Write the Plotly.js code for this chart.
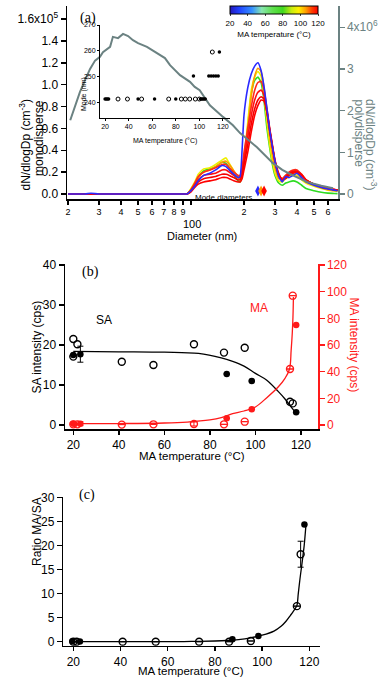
<!DOCTYPE html>
<html><head><meta charset="utf-8">
<script src="https://cdn.plot.ly/plotly-3.0.1.min.js"></script>
<style>html,body{margin:0;padding:0;background:#fff}#chart{width:392px;height:684px}</style>
</head><body><div id="chart"></div>
<script>
// ---------- Panel (a): monodisperse size distributions (units of 1e5 cm^-3) ----------
const diameter_nm = [20,25,27,30,50,90, 95,100,105,110,118,128,138,150,158,165, 175,185,190,195,200,210,220,230,240,250, 260,270,280,290,300,315,330,345,360,380, 400,425,450,500,550,600,650,680];
const curveTemps = [73, 88, 100, 110, 114, 117, 120, 20];
const mono_T73  = [0,0,0,0,0,0, 0.00,0.04,0.09,0.15,0.21,0.23,0.25,0.29,0.28,0.24, 0.18,0.12,0.11,0.16,0.30,0.62,0.92,1.04,1.07,1.02, 0.85,0.60,0.42,0.27,0.17,0.10,0.08,0.10,0.11,0.12, 0.11,0.08,0.05,0.03,0.015,0.008,0.005,0.003];
const mono_T88  = [0,0,0,0,0,0, 0.00,0.05,0.11,0.18,0.23,0.24,0.27,0.31,0.33,0.28, 0.21,0.15,0.13,0.18,0.32,0.65,0.95,1.07,1.12,1.08, 0.90,0.66,0.45,0.30,0.19,0.12,0.11,0.14,0.16,0.18, 0.17,0.13,0.10,0.07,0.05,0.035,0.03,0.025];
const mono_T100 = [0,0,0,0,0,0, 0.00,0.04,0.09,0.15,0.20,0.22,0.25,0.29,0.30,0.27, 0.21,0.16,0.14,0.17,0.28,0.58,0.90,1.08,1.15,1.12, 0.97,0.74,0.52,0.36,0.24,0.14,0.14,0.17,0.19,0.20, 0.19,0.15,0.11,0.08,0.055,0.04,0.03,0.028];
const mono_T110 = [0,0,0,0,0,0, 0.00,0.04,0.10,0.16,0.20,0.22,0.24,0.27,0.27,0.24, 0.20,0.17,0.17,0.24,0.38,0.60,0.80,0.95,1.02,1.03, 0.95,0.78,0.60,0.45,0.30,0.17,0.14,0.17,0.20,0.22, 0.22,0.18,0.13,0.09,0.065,0.05,0.04,0.035];
const mono_T114 = [0,0,0,0,0,0, 0.00,0.03,0.08,0.13,0.17,0.18,0.19,0.22,0.22,0.20, 0.17,0.15,0.15,0.20,0.32,0.52,0.72,0.86,0.93,0.95, 0.90,0.76,0.58,0.43,0.29,0.17,0.13,0.16,0.19,0.21, 0.21,0.18,0.13,0.09,0.065,0.05,0.04,0.035];
const mono_T117 = [0,0,0,0,0,0, 0.00,0.03,0.07,0.11,0.14,0.15,0.16,0.18,0.18,0.17, 0.15,0.13,0.13,0.17,0.27,0.45,0.64,0.78,0.86,0.89, 0.87,0.75,0.58,0.43,0.30,0.18,0.13,0.15,0.18,0.20, 0.20,0.17,0.13,0.09,0.065,0.05,0.04,0.035];
const mono_T120 = [0,0,0,0,0,0, 0.00,0.02,0.06,0.09,0.11,0.12,0.13,0.15,0.15,0.14, 0.12,0.11,0.11,0.14,0.22,0.38,0.57,0.72,0.81,0.86, 0.85,0.75,0.59,0.44,0.31,0.19,0.13,0.14,0.17,0.19, 0.20,0.17,0.13,0.09,0.065,0.05,0.04,0.035];
const mono_T20  = [0,0,0.006,0,0,0, 0.00,0.03,0.07,0.12,0.17,0.19,0.22,0.26,0.25,0.22, 0.18,0.15,0.16,0.40,0.72,0.97,1.10,1.17,1.20,1.13, 0.98,0.78,0.58,0.43,0.30,0.16,0.11,0.16,0.15,0.17, 0.19,0.15,0.11,0.08,0.06,0.045,0.035,0.03];
const monoSeries = [mono_T73, mono_T88, mono_T100, mono_T110, mono_T114, mono_T117, mono_T120, mono_T20];
const curveColors = ['#2edc22','#eeee00','#ff9a00','#ff2a1a','#ff1010','#f50000','#ff0000','#2a2aff'];

// polydisperse distribution (units of 1e6 cm^-3)
const poly_D = [20.6,21.9,23.4,25,26.7,28.5,30.4,31.6,34.7,36,38.5,41.1,43.9,46.8,50,56.2,60.1,66.7,71.1,76,86.6,98.7,105,112,125,128,152,173,190,237,292,330,365,456,550,641];
const poly_dNdlogDp = [1.77,2.09,2.45,2.73,3.0,3.2,3.29,3.4,3.53,3.77,3.74,3.84,3.79,3.69,3.62,3.53,3.45,3.33,3.26,3.09,2.85,2.69,2.57,2.49,2.21,2.13,1.85,1.65,1.46,1.12,0.74,0.58,0.48,0.29,0.2,0.14];

// mode diameter markers
const modeMarkD = [240, 250, 260];
const modeMarkY = [0.027, 0.027, 0.027];
const modeMarkColors = ['#2a2aff','#ff9a00','#ff0000'];

// inset: mode vs MA temperature
const inset_open_T = [31, 39, 51, 74, 84.7, 88.1, 91.8, 96.6, 100, 111];
const inset_open_mode = [241.5,241.5,241.5,241.5,241.5,241.5,241.5,241.5,241.5,259.6];
const inset_filled_T = [20, 21, 22, 23, 48, 62, 80, 101, 102, 103, 104, 105, 95, 108, 110, 112, 114, 116, 117];
const inset_filled_mode = [241.5,241.5,241.5,241.5,241.5,241.5,241.5,241.5,241.5,241.5,241.5,241.5,250.4,250.4,250.4,250.4,250.4,250.4,259.6];

// colorbar
const cbTicks = [20, 40, 60, 80, 100, 120];

// ---------- Panel (b) ----------
const SA_open_T = [20, 20, 21.8, 41.3, 55.2, 73, 86.2, 95.3, 115.2, 116.4];
const SA_open = [21.5, 17.1, 20.2, 15.8, 15.0, 20.2, 18.1, 19.3, 5.8, 5.4];
const SA_filled_T = [20, 23.1, 87.4, 98.4, 117.9];
const SA_filled = [17.5, 17.7, 12.75, 11.0, 3.2];
const SA_filled_err = [0, 2.0, 0, 0, 0];
const SA_fit_T = [20, 40, 60, 75, 85, 90, 95, 100, 105, 110, 113, 116, 118];
const SA_fit = [18.4, 18.3, 18.2, 17.9, 16.8, 15.9, 14.7, 12.9, 11.2, 8.4, 6.5, 4.3, 2.9];

const MA_open_T = [20, 21.8, 41.3, 55.2, 73, 86.2, 95.3, 115.2, 116.4];
const MA_open = [0.5, 0.5, 0.3, 0.5, 0.8, 0.5, 2.5, 42, 97];
const MA_open_err = [0, 0, 0, 0, 1.5, 0, 0, 0, 0];
const MA_filled_T = [20, 23.1, 87.4, 98.4, 117.9];
const MA_filled = [1.0, 1.0, 5.0, 11.8, 75];
const MA_filled_err = [0, 1.5, 0, 0, 0];
const MA_fit_T = [20, 40, 60, 70, 80, 85, 90, 95, 100, 105, 110, 113, 115, 115.7, 116.2, 116.5, 116.7];
const MA_fit = [1.0, 1.1, 1.5, 2.2, 3.8, 5.5, 8.5, 10.5, 13.5, 20.5, 28.5, 35, 42, 56, 69, 81, 96];

// ---------- Panel (c) ----------
const R_open_T = [20, 21.4, 40.9, 54.9, 73.3, 86, 95.2, 114.7, 116.3];
const R_open = [0, 0, 0, 0, 0, 0, 0.15, 7.4, 18.2];
const R_open_err = [0, 0, 0, 0, 0, 0, 0, 0, 2.7];
const R_filled_T = [19.6, 22.8, 87.4, 98.4, 117.9];
const R_filled = [0.1, 0.05, 0.5, 1.2, 24.4];
const R_fit_T = [20, 40, 60, 70, 80, 85, 90, 95, 100, 105, 108, 110, 112, 114, 114.7, 115.3, 116, 116.8, 117.3, 117.8, 118.5];
const R_fit = [0.0, 0.0, 0.02, 0.05, 0.15, 0.25, 0.45, 0.8, 1.35, 2.2, 3.2, 4.2, 5.5, 6.9, 7.5, 10, 13, 16, 18, 20, 24];

// ---------- build ----------
const FONT = 'Liberation Sans, Arial, sans-serif';
const SERIF = 'Liberation Serif, Times New Roman, serif';
const GRAY = '#6b8282';
const RED = '#ff1a1a';
const W = 392, H = 684;
const px = v => v / W;
const py = v => 1 - v / H;

const traces = [];
monoSeries.forEach((s, i) => {
  traces.push({type:'scatter', mode:'lines', x:diameter_nm, y:s, xaxis:'x', yaxis:'y',
    line:{color:curveColors[i], width:1.6, shape:'spline', smoothing:0.5}, hoverinfo:'skip'});
});
traces.push({type:'scatter', mode:'lines', x:poly_D, y:poly_dNdlogDp, xaxis:'x', yaxis:'y2',
  line:{color:GRAY, width:2}, hoverinfo:'skip'});
traces.push({type:'scatter', mode:'markers', x:modeMarkD, y:modeMarkY, xaxis:'x', yaxis:'y',
  marker:{symbol:'diamond-tall', size:8, color:modeMarkColors}, hoverinfo:'skip'});
// colorbar carrier
traces.push({type:'scatter', mode:'markers', x:[30,40], y:[-5,-5], xaxis:'x', yaxis:'y',
  marker:{size:1, color:[cbTicks[0], cbTicks[cbTicks.length-1]], cmin:20, cmax:120,
    colorscale:[[0,'#2418b8'],[0.1,'#2040ff'],[0.25,'#3590ff'],[0.36,'#88e6b0'],[0.48,'#60e050'],[0.6,'#40d820'],[0.7,'#c8ec10'],[0.78,'#fff000'],[0.86,'#ffa000'],[0.93,'#ff4000'],[1,'#ff0000']],
    showscale:true,
    colorbar:{orientation:'h', x:px(274), xanchor:'center', y:py(6), yanchor:'top', len:88, lenmode:'pixels',
      thickness:8, thicknessmode:'pixels', outlinewidth:1, outlinecolor:'#000', xpad:0, ypad:0,
      tickvals:cbTicks, ticks:'outside', ticklen:2, tickfont:{size:8, family:FONT, color:'#000'},
      title:{text:'MA temperature (°C)', side:'bottom', font:{size:8, family:FONT, color:'#000'}}}},
  hoverinfo:'skip'});
// inset
traces.push({type:'scatter', mode:'markers', x:inset_open_T, y:inset_open_mode, xaxis:'x2', yaxis:'y3',
  marker:{symbol:'circle-open', size:4, color:'#000', line:{width:1, color:'#000'}}, hoverinfo:'skip'});
traces.push({type:'scatter', mode:'markers', x:inset_filled_T, y:inset_filled_mode, xaxis:'x2', yaxis:'y3',
  marker:{symbol:'circle', size:3.5, color:'#000'}, hoverinfo:'skip'});

// panel b
traces.push({type:'scatter', mode:'lines', x:SA_fit_T, y:SA_fit, xaxis:'x3', yaxis:'y4',
  line:{color:'#000', width:1.3, shape:'spline'}, hoverinfo:'skip'});
traces.push({type:'scatter', mode:'lines', x:MA_fit_T, y:MA_fit, xaxis:'x3', yaxis:'y5',
  line:{color:RED, width:1.3, shape:'spline'}, hoverinfo:'skip'});
traces.push({type:'scatter', mode:'markers', x:SA_open_T, y:SA_open, xaxis:'x3', yaxis:'y4',
  marker:{symbol:'circle-open', size:7, color:'#000', line:{width:1.4, color:'#000'}}, hoverinfo:'skip'});
traces.push({type:'scatter', mode:'markers', x:SA_filled_T, y:SA_filled, xaxis:'x3', yaxis:'y4',
  error_y:{type:'data', array:SA_filled_err, visible:true, color:'#000', thickness:1, width:3},
  marker:{symbol:'circle', size:6.5, color:'#000'}, hoverinfo:'skip'});
traces.push({type:'scatter', mode:'markers', x:MA_open_T, y:MA_open, xaxis:'x3', yaxis:'y5',
  error_y:{type:'data', array:MA_open_err, visible:true, color:RED, thickness:1, width:3},
  marker:{symbol:'circle-open', size:7, color:RED, line:{width:1.4, color:RED}}, hoverinfo:'skip'});
traces.push({type:'scatter', mode:'markers', x:MA_filled_T, y:MA_filled, xaxis:'x3', yaxis:'y5',
  error_y:{type:'data', array:MA_filled_err, visible:true, color:RED, thickness:1, width:3},
  marker:{symbol:'circle', size:6.5, color:RED}, hoverinfo:'skip'});

// panel c
traces.push({type:'scatter', mode:'lines', x:R_fit_T, y:R_fit, xaxis:'x4', yaxis:'y6',
  line:{color:'#000', width:1.3, shape:'spline'}, hoverinfo:'skip'});
traces.push({type:'scatter', mode:'markers', x:R_open_T, y:R_open, xaxis:'x4', yaxis:'y6',
  error_y:{type:'data', array:R_open_err, visible:true, color:'#000', thickness:1, width:3},
  marker:{symbol:'circle-open', size:7, color:'#000', line:{width:1.4, color:'#000'}}, hoverinfo:'skip'});
traces.push({type:'scatter', mode:'markers', x:R_filled_T, y:R_filled, xaxis:'x4', yaxis:'y6',
  marker:{symbol:'circle', size:6.5, color:'#000'}, hoverinfo:'skip'});

const baseAx = {showline:true, linecolor:'#000', linewidth:1.5, ticks:'outside', ticklen:5, tickwidth:1.5,
  tickcolor:'#000', showgrid:false, zeroline:false, tickfont:{size:12, family:FONT, color:'#000'}, fixedrange:true};

const xTickVals = [20,30,40,50,60,70,80,90,100,200,300,400,500,600];
const xTickText = ['2','3','4','5','6','7','8','9',' ','2','3','4','5','6'];

function ann(text, x, y, opts) {
  return Object.assign({text:text, x:px(x), y:py(y), xref:'paper', yref:'paper', showarrow:false,
    font:{size:12, family:FONT, color:'#000'}}, opts || {});
}

const layout = {
  width:W, height:H, margin:{l:0,r:0,t:0,b:0}, paper_bgcolor:'#fff', plot_bgcolor:'rgba(0,0,0,0)',
  showlegend:false, font:{family:FONT, color:'#000'},
  xaxis:Object.assign({}, baseAx, {type:'log', domain:[px(67), px(338)], range:[1.2955, 2.835], anchor:'y',
    tickvals:xTickVals, ticktext:xTickText, ticklen:4, tickfont:{size:9, family:FONT, color:'#000'}}),
  yaxis:Object.assign({}, baseAx, {domain:[py(199), py(6)], range:[-0.046, 1.72], anchor:'x',
    tickvals:[0,0.2,0.4,0.6,0.8,1.0,1.2,1.4,1.6],
    ticktext:['0.0','0.2','0.4','0.6','0.8','1.0','1.2','1.4','1.6x10<sup>5</sup>']}),
  yaxis2:Object.assign({}, baseAx, {overlaying:'y', side:'right', anchor:'x', range:[-0.12, 4.51],
    linecolor:GRAY, tickcolor:GRAY, tickvals:[0,1,2,3,4], ticktext:['0','1','2','3','4x10<sup>6</sup>'],
    tickfont:{size:12, family:FONT, color:GRAY}}),
  xaxis2:Object.assign({}, baseAx, {domain:[px(100), px(230)], range:[15.7, 126], anchor:'y3',
    linewidth:1, tickwidth:1, ticklen:2, tickvals:[20,40,60,80,100,120], tickfont:{size:7, family:FONT, color:'#000'}}),
  yaxis3:Object.assign({}, baseAx, {domain:[py(118), py(25)], range:[234.2, 270], anchor:'x2',
    linewidth:1, tickwidth:1, ticklen:2, tickvals:[240,250,260,270], tickfont:{size:7, family:FONT, color:'#000'}}),
  xaxis3:Object.assign({}, baseAx, {domain:[px(65), px(318)], range:[16.35, 127.5], anchor:'y4',
    ticklen:4, tickvals:[20,40,60,80,100,120]}),
  yaxis4:Object.assign({}, baseAx, {domain:[py(429), py(264)], range:[-1, 40.25], anchor:'x3',
    tickvals:[0,10,20,30,40]}),
  yaxis5:Object.assign({}, baseAx, {overlaying:'y4', side:'right', anchor:'x3', range:[-3, 120.75],
    linecolor:RED, tickcolor:RED, tickvals:[0,20,40,60,80,100,120], tickfont:{size:12, family:FONT, color:RED}}),
  xaxis4:Object.assign({}, baseAx, {domain:[px(63.3), px(320)], range:[15.76, 124.5], anchor:'y6',
    ticklen:4, tickvals:[20,40,60,80,100,120]}),
  yaxis6:Object.assign({}, baseAx, {domain:[py(645.7), py(497)], range:[-0.83, 30.1], anchor:'x4',
    tickvals:[0,5,10,15,20,25,30]}),
  annotations:[
    ann('(a)', 78, 8, {font:{family:SERIF, size:14, color:'#000'}}),
    ann('dN/dlogDp (cm<sup>-3</sup>)', 15, 98, {textangle:-90}),
    ann('monodisperse', 30, 98, {textangle:-90}),
    ann('dN/dlogDp (cm<sup>-3</sup>)', 381.5, 97, {textangle:90, font:{size:12, family:FONT, color:GRAY}}),
    ann('polydisperse', 367.5, 97, {textangle:90, font:{size:12, family:FONT, color:GRAY}}),
    ann('100', 191.5, 215.5, {font:{size:11, family:FONT, color:'#000'}}),
    ann('Diameter (nm)', 202, 227.5, {font:{size:11, family:FONT, color:'#000'}}),
    ann('Mode diameters', 254, 191, {xanchor:'right', font:{size:8, family:FONT, color:'#000'}}),
    ann('Mode (nm)', 78, 75, {textangle:-90, font:{size:7, family:FONT, color:'#000'}}),
    ann('MA temperature (°C)', 165, 135, {font:{size:7, family:FONT, color:'#000'}}),
    ann('(b)', 80, 272, {font:{family:SERIF, size:14, color:'#000'}}),
    ann('SA', 93.5, 320),
    ann('MA', 269.5, 308.5, {font:{size:12, family:FONT, color:RED}}),
    ann('SA intensity (cps)', 27.5, 347, {textangle:-90}),
    ann('MA intensity (cps)', 362.5, 345, {textangle:90, font:{size:12, family:FONT, color:RED}}),
    ann('MA temperature (°C)', 192, 464, {font:{size:11.5, family:FONT, color:'#000'}}),
    ann('(c)', 77, 505, {font:{family:SERIF, size:14, color:'#000'}}),
    ann('Ratio MA/SA', 28, 568.5, {textangle:-90}),
    ann('MA temperature (°C)', 191, 678.5, {font:{size:11.5, family:FONT, color:'#000'}})
  ]
};

Plotly.newPlot('chart', traces, layout, {staticPlot:true, displayModeBar:false});
</script>
</body></html>
